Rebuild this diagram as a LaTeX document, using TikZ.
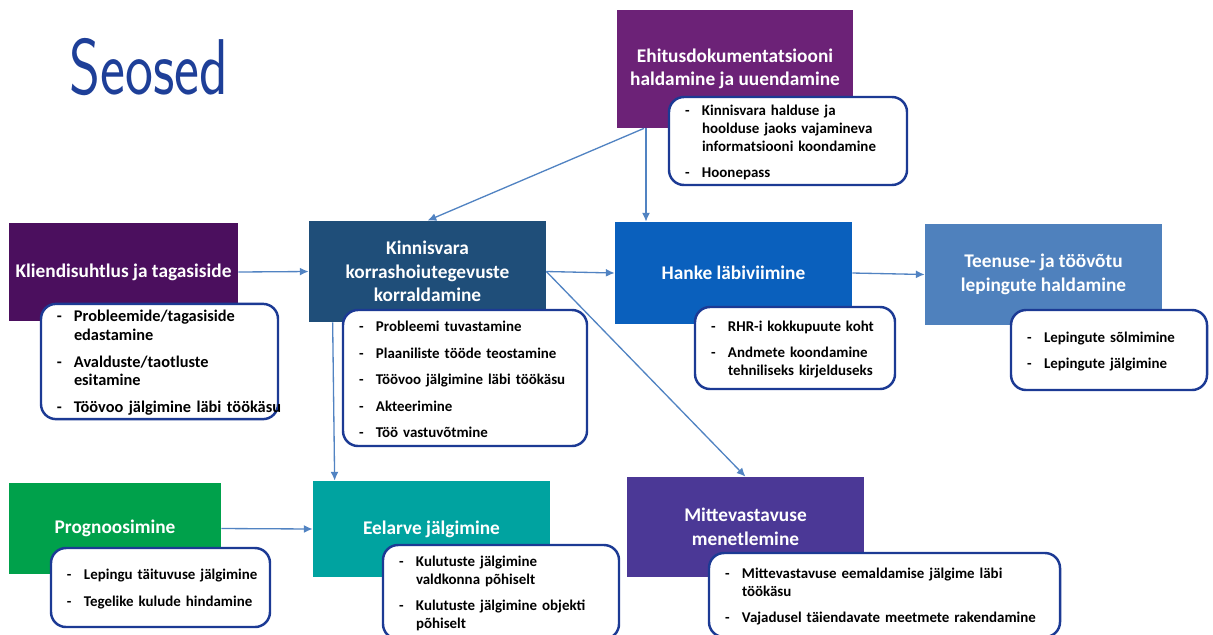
\documentclass[tikz,border=0pt]{standalone}
\usepackage{fontspec}
\setmainfont{Carlito}
\usepackage{graphicx}
\usetikzlibrary{arrows.meta,positioning}

\definecolor{docpurple}{HTML}{6C2277}
\definecolor{clientpurple}{HTML}{4B0F5E}
\definecolor{maintblue}{HTML}{1F4E79}
\definecolor{procblue}{HTML}{0A60BD}
\definecolor{contractblue}{HTML}{4F81BD}
\definecolor{forecastgreen}{HTML}{00A14B}
\definecolor{budgetteal}{HTML}{00A3A0}
\definecolor{ncindigo}{HTML}{4B3896}
\definecolor{noteblue}{HTML}{1C3A94}
\definecolor{linkblue}{HTML}{5183C2}
\definecolor{titleblue}{HTML}{1E3F98}

\tikzset{
  topic/.style={fill=#1,text=white,font=\fontsize{11}{13.4}\selectfont\bfseries,align=center,inner sep=2pt},
  notebox/.style={draw=noteblue,line width=1.4pt,fill=white,rounded corners=0.3cm,
    font=\fontsize{8.5}{10.3}\selectfont\bfseries,inner xsep=0.32cm,inner ysep=2pt,
    execute at begin node={\raggedright\setlength{\parskip}{4.8pt}\vskip-0.26cm}},
  link/.style={draw=linkblue,line width=0.75pt,-{Latex[length=5pt,width=4.5pt]}},
}
\newcommand{\itm}[1]{\par\noindent\hangindent=0.34cm\hangafter=1\makebox[0.34cm][l]{-}#1\par}

\begin{document}
\begin{tikzpicture}[x=0.2mm,y=-0.2mm,line join=round]
\path[use as bounding box] (0,0) rectangle (1213,634);

\node[text=titleblue] (title) at (149,67) {\scalebox{0.75}[1]{\sffamily\fontsize{45}{45}\selectfont Seosed}};

\node[topic=docpurple,minimum width=4.72cm,minimum height=2.36cm] (ehitus) at (735,69) {Ehitusdokumentatsiooni\\haldamine ja uuendamine};
\node[topic=clientpurple,minimum width=4.58cm,minimum height=1.96cm] (kliendi) at (123.5,272) {Kliendisuhtlus ja tagasiside};
\node[topic=maintblue,minimum width=4.74cm,minimum height=2.02cm] (kinn) at (427.5,271.5) {Kinnisvara\\korrashoiutegevuste\\korraldamine};
\node[topic=procblue,minimum width=4.74cm,minimum height=2.04cm] (hanke) at (733.5,273) {Hanke läbiviimine};
\node[topic=contractblue,minimum width=4.74cm,minimum height=2.02cm] (teenuse) at (1043.5,274.5) {Teenuse- ja töövõtu\\lepingute haldamine};
\node[topic=forecastgreen,minimum width=4.24cm,minimum height=1.82cm] (progn) at (115,528.5) {Prognoosimine};
\node[topic=budgetteal,minimum width=4.74cm,minimum height=1.92cm] (eelarve) at (431.5,529) {Eelarve jälgimine};
\node[topic=ncindigo,minimum width=4.74cm,minimum height=2.0cm] (mitt) at (745.5,527) {Mittevastavuse\\menetlemine};

\node[notebox,text width=4.12cm,minimum height=1.76cm] (ehitusnote) at (788,141) {%
  \itm{Kinnisvara halduse ja\newline hoolduse jaoks vajamineva\newline informatsiooni koondamine}
  \itm{Hoonepass}};
\node[notebox,text width=4.10cm,minimum height=2.14cm,font=\fontsize{9.3}{10.6}\selectfont\bfseries] (kliendinote) at (159.5,361.5) {%
  \itm{Probleemide/tagasiside\newline edastamine}
  \itm{Avalduste/taotluste\newline esitamine}
  \itm{\mbox{Töövoo jälgimine läbi töökäsu}}};
\node[notebox,text width=4.24cm,minimum height=2.72cm] (kinnnote) at (465,378) {%
  \itm{Probleemi tuvastamine}
  \itm{Plaaniliste tööde teostamine}
  \itm{\mbox{Töövoo jälgimine läbi töökäsu}}
  \itm{Akteerimine}
  \itm{Töö vastuvõtmine}};
\node[notebox,text width=3.36cm,minimum height=1.64cm] (hankenote) at (795,348) {%
  \itm{RHR-i kokkupuute koht}
  \itm{Andmete koondamine\newline tehniliseks kirjelduseks}};
\node[notebox,text width=3.28cm,minimum height=1.6cm] (teenusenote) at (1109,350) {%
  \itm{Lepingute sõlmimine}
  \itm{Lepingute jälgimine}};
\node[notebox,text width=3.74cm,minimum height=1.58cm] (prognnote) at (160.5,587.5) {%
  \itm{\mbox{Lepingu täituvuse jälgimine}}
  \itm{\mbox{Tegelike kulude hindamine}}};
\node[notebox,text width=4.08cm,minimum height=1.88cm] (eelarvenote) at (501,592) {%
  \itm{Kulutuste jälgimine\newline valdkonna põhiselt}
  \itm{Kulutuste jälgimine objekti\newline põhiselt}};
\node[notebox,text width=6.38cm,minimum height=1.68cm] (mittnote) at (884.5,595) {%
  \itm{Mittevastavuse eemaldamise jälgime läbi\newline töökäsu}
  \itm{Vajadusel täiendavate meetmete rakendamine}};

\coordinate (ehitusfoot) at ([xshift=-1.78cm]ehitus.south);
\coordinate (kinnfoot) at ([xshift=0.48cm]kinn.south west);
\draw[link] ([xshift=-1.82cm]ehitus.south) -- (kinn.north);
\draw[link] (ehitusfoot) -- (ehitusfoot |- hanke.north);
\draw[link] (kliendi.east) -- (kinn.west);
\draw[link] (kinn.east) -- (hanke.west);
\draw[link] (kinn.east) -- (mitt.north);
\draw[link] (kinnfoot) -- ([xshift=0.44cm]eelarve.north west);
\draw[link] (hanke.east) -- (teenuse.west);
\draw[link] (progn.east) -- (eelarve.west);
\end{tikzpicture}
\end{document}
